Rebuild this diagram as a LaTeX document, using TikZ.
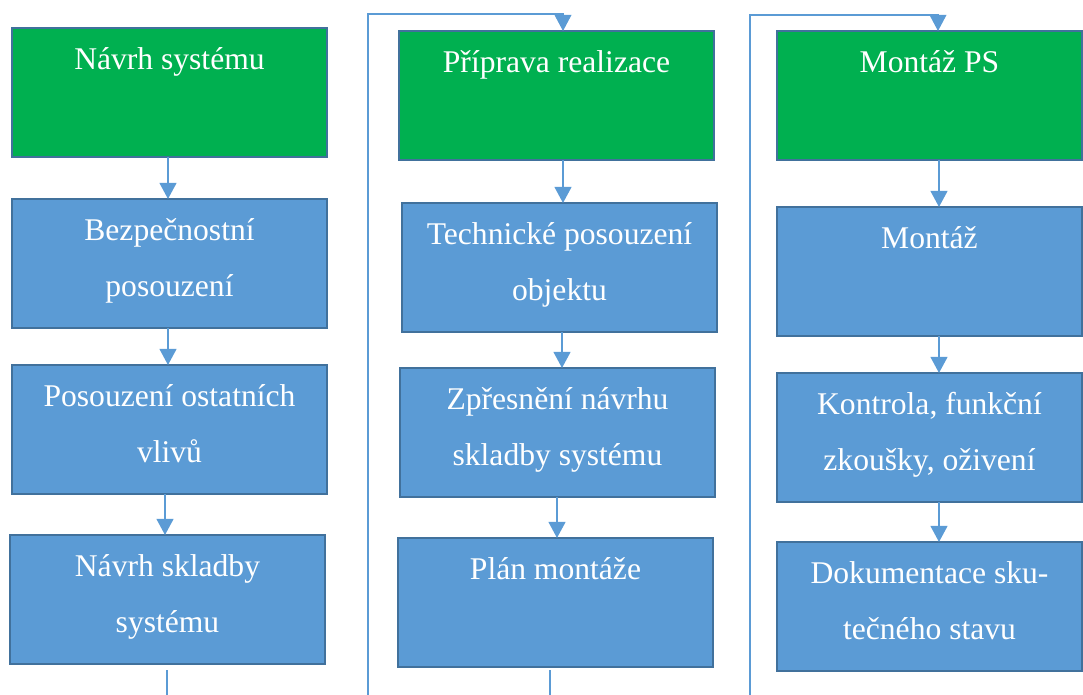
\documentclass[tikz,border=0pt]{standalone}
\usepackage{fontspec}
\setmainfont{Liberation Serif}
\usetikzlibrary{arrows.meta}
\definecolor{greenc}{HTML}{00B050}
\definecolor{bluec}{HTML}{5B9BD5}
\definecolor{bordc}{HTML}{41719C}
\definecolor{linec}{HTML}{5B9BD5}
\newcommand\tx[1]{\parbox[c][96.75pt][t]{228pt}{\centering\rule{0pt}{31pt}#1}}
\begin{document}
\begin{tikzpicture}[x=0.75pt,y=-0.75pt,
  base/.style={draw=bordc, line width=1.1pt, inner sep=0pt, outer sep=0pt, anchor=north west,
    minimum height=96.75pt, text=white, font=\fontsize{23.7}{42}\selectfont},
  gbox/.style={base, fill=greenc, minimum width=236.25pt},
  bbox/.style={base, fill=bluec, minimum width=236.25pt},
  gboxn/.style={base, fill=greenc, minimum width=228.75pt},
  bboxn/.style={base, fill=bluec, minimum width=228.75pt},
  arr/.style={draw=linec, line width=1.5pt, -{Triangle[width=12.5pt,length=12pt]}},
  frame/.style={draw=linec, line width=1pt},
  farr/.style={frame, -{Triangle[width=12.5pt,length=12pt]}}]
\useasboundingbox (0,0) rectangle (1083,695);
% column 1
\node[gbox] (a1) at (12,28) {\tx{Návrh systému}};
\node[bbox] (a2) at (12,199) {\tx{Bezpečnostní\\posouzení}};
\node[bbox] (a3) at (12,365) {\tx{Posouzení ostatních\\vlivů}};
\node[bbox] (a4) at (10,535) {\tx{Návrh skladby\\systému}};
% column 2
\node[gbox] (b1) at (399,31) {\tx{Příprava realizace}};
\node[bbox] (b2) at (402,203) {\tx{Technické posouzení\\objektu}};
\node[bbox] (b3) at (400,368) {\tx{Zpřesnění návrhu\\skladby systému}};
\node[bbox] (b4) at (398,538) {\tx{Plán montáže}};
% column 3
\node[gboxn] (c1) at (777,31) {\tx{Montáž PS}};
\node[bboxn] (c2) at (777,207) {\tx{Montáž}};
\node[bboxn] (c3) at (777,373) {\tx{Kontrola, funkční\\zkoušky, oživení}};
\node[bboxn] (c4) at (777,542) {\tx{Dokumentace sku-\\tečného stavu}};
% arrows column 1
\draw[arr] (a1.south -| 168,0) -- (a2.north -| 168,0);
\draw[arr] (a2.south -| 168,0) -- (a3.north -| 168,0);
\draw[arr] (a3.south -| 165,0) -- (a4.north -| 165,0);
% arrows column 2
\draw[arr] (b1.south -| 563,0) -- (b2.north -| 563,0);
\draw[arr] (b2.south -| 562,0) -- (b3.north -| 562,0);
\draw[arr] (b3.south -| 557,0) -- (b4.north -| 557,0);
% arrows column 3
\draw[arr] (c1.south -| 939,0) -- (c2.north -| 939,0);
\draw[arr] (c2.south -| 939,0) -- (c3.north -| 939,0);
\draw[arr] (c3.south -| 939,0) -- (c4.north -| 939,0);
% continuation lines
\coordinate (s1a) at (167,670);
\coordinate (s1b) at (167,696);
\draw[frame] (s1a) -- (s1b);
\coordinate (s2a) at (550,670);
\coordinate (s2b) at (550,696);
\draw[frame] (s2a) -- (s2b);
\coordinate (f2a) at (368,696);
\coordinate (f2b) at (563,14);
\draw[farr] (f2a) |- (f2b) -- (b1.north -| f2b);
\coordinate (f3a) at (750,696);
\coordinate (f3b) at (938,15);
\draw[farr] (f3a) |- (f3b) -- (c1.north -| f3b);
\end{tikzpicture}
\end{document}
